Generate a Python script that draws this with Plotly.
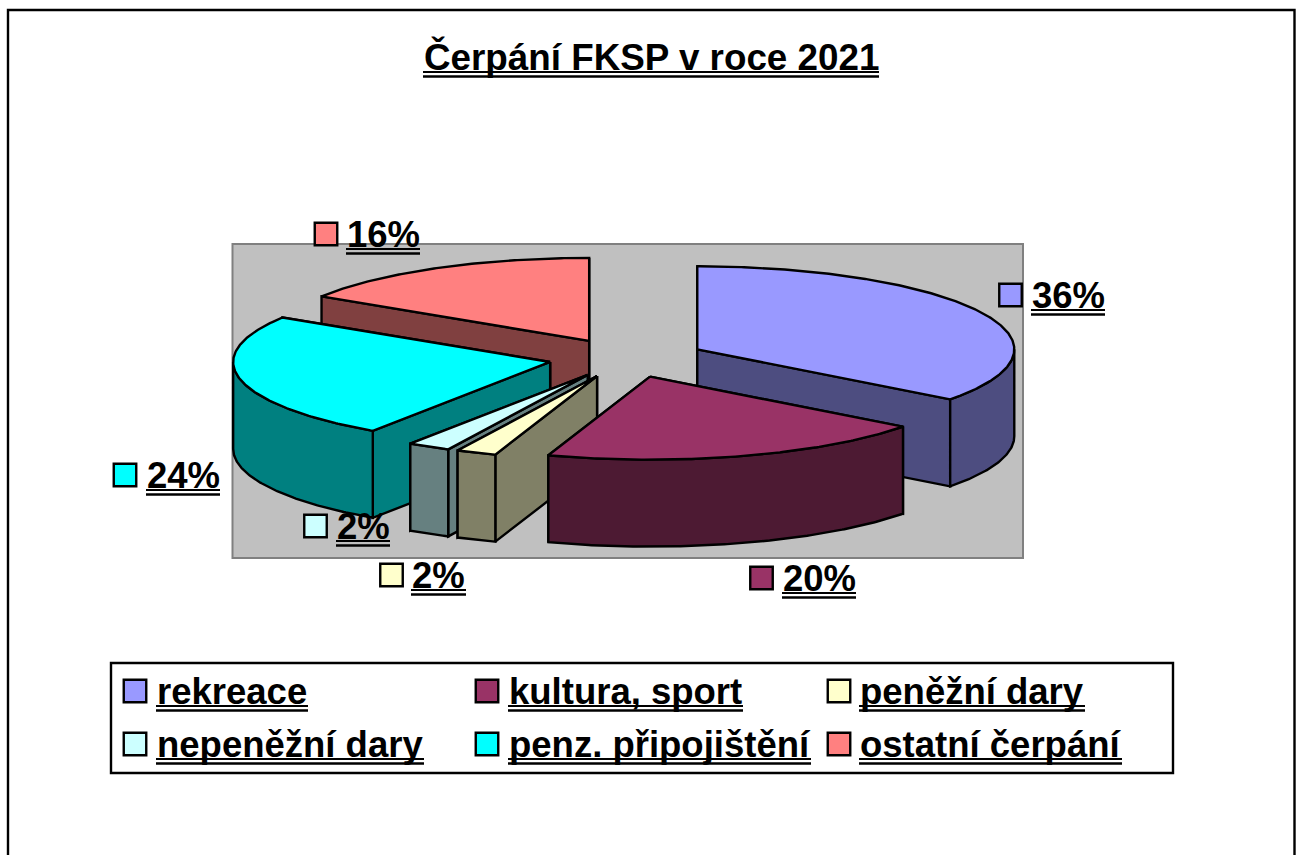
import math
import plotly.graph_objects as go

# ---- data ----
categories = ["rekreace", "kultura, sport", "peněžní dary", "nepeněžní dary", "penz. připojištění", "ostatní čerpání"]
values = [35.3, 19.9, 2.05, 2.2, 24.55, 16.0]
percent_labels = ["36%", "20%", "2%", "2%", "24%", "16%"]
top_colors = ["#9999FF", "#993366", "#FFFFCC", "#CCFFFF", "#00FFFF", "#FF8080"]
side_colors = ["#4D4D80", "#4D1A33", "#808066", "#668080", "#008080", "#804040"]
title_text = "Čerpání FKSP v roce 2021"

# ---- layout (pixel-like axis) ----
CX, CY, RX, RY, DEPTH = 627, 358, 317, 83, 87
EXPL_X, EXPL_Y = 78.5, 19.5
draw_order = [5, 0, 4, 3, 2, 1]
F = "Liberation Sans, Arial, sans-serif"
label_pos = [  # key x, text x0, text x1, row y for each slice
    (1010.5, 1031, 1104, 295), (761.5, 782, 855, 578), (391.5, 411, 465, 575),
    (315.5, 336, 389, 526), (125, 146, 219, 475), (326, 346, 419, 234)]
legend_pos = [(135, 156, 307, 691), (487, 508, 742, 691), (839, 859, 1084, 691),
              (135, 156, 423, 744), (487, 508, 810, 744), (839, 859, 1121, 744)]

fig = go.Figure()


def pt(x0, y0, ang, dz=0):
    a = math.radians(ang)
    return x0 + RX * math.sin(a), y0 - RY * math.cos(a) + dz


def arc(x0, y0, a0, a1, dz=0):
    n = max(2, int(abs(a1 - a0)) * 2)
    return [pt(x0, y0, a0 + (a1 - a0) * i / n, dz) for i in range(n + 1)]


def face(points, color):
    xs = [p[0] for p in points] + [points[0][0]]
    ys = [p[1] for p in points] + [points[0][1]]
    fig.add_trace(go.Scatter(x=xs, y=ys, mode="lines", fill="toself", fillcolor=color,
                             line=dict(color="black", width=2.4), hoverinfo="skip", showlegend=False))


total = sum(values)
starts = []
acc = 0
for v in values:
    starts.append(acc)
    acc += v

for i in draw_order:
    a0 = starts[i] / total * 360
    a1 = (starts[i] + values[i]) / total * 360
    mid = math.radians((a0 + a1) / 2)
    ax = CX + EXPL_X * math.sin(mid)
    ay = CY - EXPL_Y * math.cos(mid)
    col, side = top_colors[i], side_colors[i]
    walls = [a0, a1]
    walls.sort(key=lambda ang: pt(ax, ay, ang)[1])
    for ang in walls:
        p = pt(ax, ay, ang)
        face([(ax, ay), p, (p[0], p[1] + DEPTH), (ax, ay + DEPTH)], side)
    r0, r1 = max(a0, 90), min(a1, 270)
    if r1 > r0:
        face(arc(ax, ay, r0, r1) + arc(ax, ay, r1, r0, DEPTH), side)
    face([(ax, ay)] + arc(ax, ay, a0, a1), col)


def underlined(text, x0, x1, yc, size=36.5, gap=15):
    fig.add_annotation(x=x0, y=yc, text=text, xref="x", yref="y", xanchor="left", yanchor="middle",
                       showarrow=False, font=dict(family=F, size=size, color="black"), borderpad=0)
    for dy, w in ((gap, 2), (gap + 4.5, 2.4)):
        fig.add_shape(type="line", x0=x0, x1=x1 + 1, y0=yc + dy, y1=yc + dy, layer="above",
                      line=dict(color="black", width=w))


key_x = [p[0] for p in label_pos] + [p[0] for p in legend_pos]
key_y = [p[3] for p in label_pos] + [p[3] for p in legend_pos]
key_c = top_colors + top_colors
fig.add_trace(go.Scatter(x=key_x, y=key_y, mode="markers", hoverinfo="skip", showlegend=False,
                         marker=dict(symbol="square", size=22.5, color=key_c, line=dict(color="black", width=2.4))))

for i, lab in enumerate(percent_labels):
    k, x0, x1, y = label_pos[i]
    underlined(f"<b>{lab}</b>", x0, x1, y)
for i, name in enumerate(categories):
    k, x0, x1, y = legend_pos[i]
    underlined(f"<b>{name}</b>", x0, x1, y)
underlined(f"<b>{title_text}</b>", 423, 878, 57, size=36.8)

shapes = [
    dict(type="path", path="M 8 870 L 8 10 L 1294.5 10 L 1294.5 870", line=dict(color="black", width=2.4), layer="below"),
    dict(type="rect", x0=232.5, y0=244, x1=1023, y1=558, fillcolor="#C0C0C0", line=dict(color="#808080", width=2), layer="below"),
    dict(type="rect", x0=111, y0=663, x1=1173, y1=773, fillcolor="white", line=dict(color="black", width=2.4), layer="below"),
]
for s in shapes:
    fig.add_shape(**s)

fig.update_layout(
    width=1299, height=855, margin=dict(l=0, r=0, t=0, b=0), paper_bgcolor="white", plot_bgcolor="white",
    xaxis=dict(range=[0, 1299], visible=False, fixedrange=True),
    yaxis=dict(range=[855, 0], visible=False, fixedrange=True),
    showlegend=False,
)
fig.write_html("out.html", post_script="document.body.style.margin='0';document.body.style.overflow='hidden';",
               config={"displayModeBar": False})
